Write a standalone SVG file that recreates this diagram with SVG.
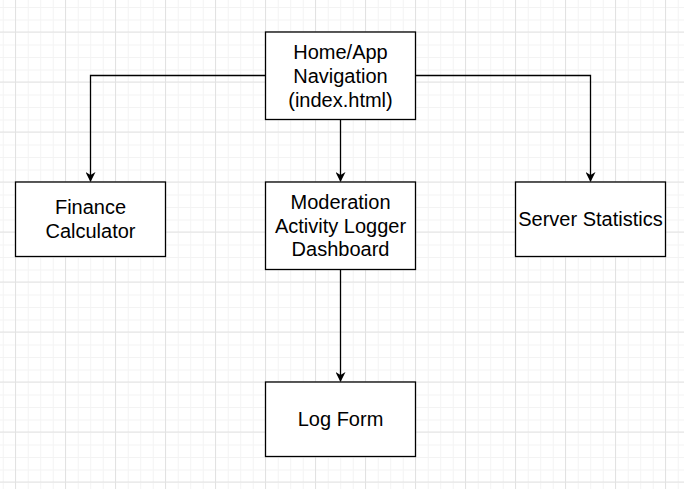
<svg xmlns="http://www.w3.org/2000/svg" width="684" height="489" viewBox="0 0 684 489">
<defs>
<pattern id="minor" patternUnits="userSpaceOnUse" x="2.75" y="7" width="12.5" height="12.5">
<path d="M0 0.5H12.5M0.5 0V12.5" fill="none" stroke="#f3f3f3" stroke-width="1"/>
</pattern>
<pattern id="major" patternUnits="userSpaceOnUse" x="15" y="31.5" width="50" height="50">
<path d="M0 0.5H50M0.5 0V50" fill="none" stroke="#e2e2e2" stroke-width="1"/>
</pattern>
<marker id="arr" viewBox="0 0 10 10" refX="9" refY="5" markerWidth="10" markerHeight="10" markerUnits="userSpaceOnUse" orient="auto">
<path d="M0 0L10 5L0 10L3 5Z" fill="#000"/>
</marker>
</defs>
<style>
.box{fill:#fff;stroke:#000;stroke-width:1.3}
.lbl{font-family:"Liberation Sans",Arial,sans-serif;font-size:20px;fill:#000;text-anchor:middle}
.edge{fill:none;stroke:#000;stroke-width:1.3}
</style>
<rect width="684" height="489" fill="#fff"/>
<rect width="684" height="489" fill="url(#minor)"/>
<rect width="684" height="489" fill="url(#major)"/>
<g id="connectors">
<path class="edge" d="M265.5 75.5H90.5V181" marker-end="url(#arr)"/>
<path class="edge" d="M415.5 75.5H590.5V181" marker-end="url(#arr)"/>
<path class="edge" d="M340.5 119.5V181" marker-end="url(#arr)"/>
<path class="edge" d="M340.5 269.5V381" marker-end="url(#arr)"/>
</g>
<g id="home">
<rect class="box" x="265.5" y="32" width="150" height="87.5"/>
<text class="lbl" x="340.5" y="58.5">Home/App</text>
<text class="lbl" x="340.5" y="82.5">Navigation</text>
<text class="lbl" x="340.5" y="106.5">(index.html)</text>
</g>
<g id="finance">
<rect class="box" x="15.5" y="182" width="150" height="74.5"/>
<text class="lbl" x="90.5" y="214">Finance</text>
<text class="lbl" x="90.5" y="237.5">Calculator</text>
</g>
<g id="moderation">
<rect class="box" x="265.5" y="182" width="150" height="87.5"/>
<text class="lbl" x="340.5" y="208.5">Moderation</text>
<text class="lbl" x="340.5" y="232.5">Activity Logger</text>
<text class="lbl" x="340.5" y="256">Dashboard</text>
</g>
<g id="server">
<rect class="box" x="515.5" y="182" width="150" height="74.5"/>
<text class="lbl" x="590.5" y="225.5">Server Statistics</text>
</g>
<g id="logform">
<rect class="box" x="265.5" y="382" width="150" height="74.5"/>
<text class="lbl" x="340.5" y="425.5">Log Form</text>
</g>
</svg>
